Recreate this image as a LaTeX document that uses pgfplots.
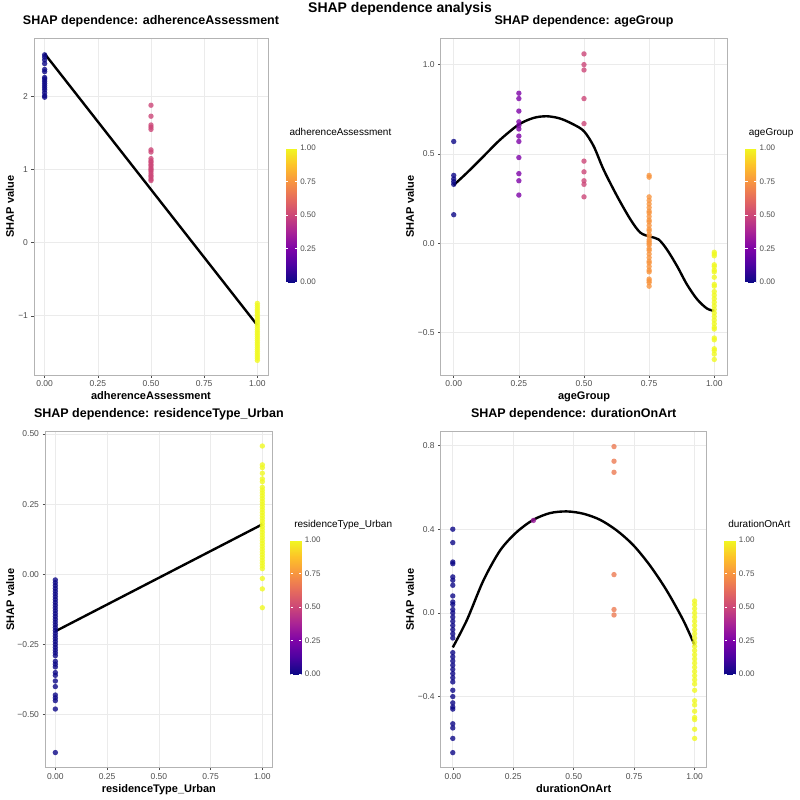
\documentclass[border=0pt]{standalone}
\usepackage{fontspec}
\setmainfont{Liberation Sans}
\usepackage{pgfplots}
\pgfplotsset{compat=1.18}

\definecolor{tickgray}{RGB}{77,77,77}
\definecolor{framegray}{RGB}{179,179,179}
\definecolor{gridgray}{RGB}{235,235,235}

\pgfplotsset{
  colormap={plasma}{rgb255=(13,8,135) rgb255=(76,2,161) rgb255=(126,3,168)
    rgb255=(169,35,149) rgb255=(204,71,120) rgb255=(230,108,92)
    rgb255=(248,149,64) rgb255=(253,195,40) rgb255=(240,249,33)},
  shap/.style={
    scale only axis,
    axis line style={framegray, line width=0.7pt},
    grid=major, major grid style={gridgray, line width=0.6pt},
    tick align=outside, major tick length=2.5pt,
    tick style={tickgray, line width=0.5pt},
    xtick pos=bottom, ytick pos=left,
    xmin=-0.05, xmax=1.05,
    xtick={0,0.25,0.5,0.75,1}, xticklabels={0.00,0.25,0.50,0.75,1.00},
    ticklabel style={font=\fontsize{8.5}{10}\selectfont, text=tickgray},
    title style={font=\fontsize{12.5}{14}\selectfont\bfseries, at={(axis description cs:0.5,1)}, anchor=base},
    label style={font=\fontsize{11}{13}\selectfont\bfseries},
    x label style={at={(axis description cs:0.5,0)}, anchor=base, yshift=-24.5pt},
    ylabel={SHAP value},
    point meta min=0, point meta max=1,
    colormap name=plasma,
    colorbar,
    every colorbar/.append style={
      scale only axis, width=10.7pt, height=134pt,
      at={(parent axis.north east)}, anchor=north west, xshift=9.5pt,
      axis line style={draw=none},
      grid=none,
      ytick={0,0.25,0.5,0.75,1}, yticklabels={0.00,0.25,0.50,0.75,1.00},
      major tick length=2.2pt, tick align=inside,
      tick style={white, line width=0.6pt},
      yticklabel pos=right,
      ticklabel style={font=\fontsize{8}{9}\selectfont, text=tickgray},
      title style={font=\fontsize{10}{12}\selectfont, at={(axis description cs:0,1)}, anchor=base west, yshift=7pt},
    },
  },
  dots/.style={scatter, only marks, mark=*, mark size=2.7pt, point meta=x,
    scatter/use mapped color={draw opacity=0, fill=mapped color, fill opacity=0.8}},
  fitline/.style={black, line width=2.4pt, no markers},
}

\begin{document}
\begin{tikzpicture}
\useasboundingbox (0,0) rectangle (800pt,-800pt);

\node[font=\fontsize{14}{16}\selectfont\bfseries, anchor=base] at (400pt,-13pt) {SHAP dependence analysis};

% ---------- adherenceAssessment ----------
\begin{axis}[shap,
  at={(34pt,-375pt)}, anchor=south west, width=234pt, height=337pt,
  ymin=-1.81, ymax=2.80,
  ytick={-1,0,1,2}, yticklabels={−1,0,1,2},
  title={SHAP dependence: adherenceAssessment}, title style={yshift=7.4pt},
  xlabel={adherenceAssessment},
  ylabel style={at={(axis description cs:-0.0855,0.5)}, anchor=base},
  colorbar style={yshift=-110pt, title={adherenceAssessment}},
]
\addplot[dots] table {
x y
0 2.57
0 2.54
0 2.50
0 2.45
0 2.37
0 2.34
0 2.26
0 2.24
0 2.21
0 2.18
0 2.15
0 2.12
0 2.09
0 2.05
0 2.01
0 1.99
0.5 1.88
0.5 1.73
0.5 1.61
0.5 1.58
0.5 1.55
0.5 1.27
0.5 1.24
0.5 1.15
0.5 1.12
0.5 1.10
0.5 1.07
0.5 1.05
0.5 1.02
0.5 1.00
0.5 0.98
0.5 0.95
0.5 0.92
0.5 0.90
0.5 0.87
0.5 0.85
1 -0.83
1 -0.86
1 -0.89
1 -0.92
1 -0.95
1 -0.98
1 -1.01
1 -1.04
1 -1.07
1 -1.10
1 -1.13
1 -1.16
1 -1.19
1 -1.22
1 -1.25
1 -1.28
1 -1.31
1 -1.34
1 -1.37
1 -1.40
1 -1.43
1 -1.46
1 -1.49
1 -1.52
1 -1.55
1 -1.58
1 -1.61
};
\addplot[fitline] coordinates {(0,2.585) (1,-1.13)};
\end{axis}

% ---------- ageGroup ----------
\begin{axis}[shap,
  at={(440.7pt,-375pt)}, anchor=south west, width=286.6pt, height=337pt,
  ymin=-0.737, ymax=1.149,
  ytick={-0.5,0,0.5,1}, yticklabels={−0.5,0.0,0.5,1.0},
  title={SHAP dependence: ageGroup}, title style={yshift=7.4pt},
  xlabel={ageGroup},
  ylabel style={at={(axis description cs:-0.0932,0.5)}, anchor=base},
  colorbar style={yshift=-110pt, title={ageGroup}},
]
\addplot[dots] table {
x y
0 0.57
0 0.38
0 0.36
0 0.345
0 0.33
0 0.16
0.25 0.84
0.25 0.81
0.25 0.74
0.25 0.68
0.25 0.66
0.25 0.64
0.25 0.60
0.25 0.57
0.25 0.48
0.25 0.39
0.25 0.35
0.25 0.27
0.5 1.06
0.5 1.00
0.5 0.97
0.5 0.81
0.5 0.67
0.5 0.46
0.5 0.40
0.5 0.35
0.5 0.33
0.5 0.26
0.75 0.38
0.75 0.37
0.75 0.26
0.75 0.24
0.75 0.22
0.75 0.20
0.75 0.18
0.75 0.17
0.75 0.15
0.75 0.13
0.75 0.12
0.75 0.10
0.75 0.08
0.75 0.07
0.75 0.05
0.75 0.04
0.75 0.02
0.75 0.01
0.75 0.00
0.75 -0.01
0.75 -0.03
0.75 -0.04
0.75 -0.06
0.75 -0.08
0.75 -0.10
0.75 -0.11
0.75 -0.13
0.75 -0.15
0.75 -0.16
0.75 -0.20
0.75 -0.21
0.75 -0.22
0.75 -0.24
1 -0.05
1 -0.06
1 -0.07
1 -0.12
1 -0.13
1 -0.15
1 -0.16
1 -0.19
1 -0.23
1 -0.24
1 -0.27
1 -0.29
1 -0.31
1 -0.33
1 -0.35
1 -0.37
1 -0.39
1 -0.41
1 -0.43
1 -0.45
1 -0.47
1 -0.48
1 -0.53
1 -0.54
1 -0.59
1 -0.60
1 -0.62
1 -0.65
};
\addplot[fitline, smooth] coordinates {
(0,0.326) (0.051,0.395) (0.115,0.488) (0.179,0.581) (0.25,0.665)
(0.307,0.702) (0.358,0.711) (0.409,0.698) (0.46,0.665) (0.5,0.627)
(0.537,0.544) (0.575,0.413) (0.627,0.264) (0.678,0.134) (0.716,0.06)
(0.754,0.037) (0.786,0.022) (0.818,-0.034) (0.857,-0.127) (0.895,-0.23)
(0.934,-0.313) (0.972,-0.365) (1,-0.378)};
\end{axis}

% ---------- residenceType_Urban ----------
\begin{axis}[shap,
  at={(45pt,-767.7pt)}, anchor=south west, width=227.7pt, height=336pt,
  ymin=-0.689, ymax=0.508,
  ytick={-0.5,-0.25,0,0.25,0.5}, yticklabels={−0.50,−0.25,0.00,0.25,0.50},
  title={SHAP dependence: residenceType\_Urban}, title style={yshift=8.3pt},
  xlabel={residenceType\_Urban},
  ylabel style={at={(axis description cs:-0.136,0.5)}, anchor=base},
  colorbar style={yshift=-108.3pt, title={residenceType\_Urban}},
]
\addplot[dots] table {
x y
0 -0.02
0 -0.03
0 -0.04
0 -0.05
0 -0.06
0 -0.07
0 -0.08
0 -0.09
0 -0.10
0 -0.11
0 -0.12
0 -0.13
0 -0.14
0 -0.15
0 -0.16
0 -0.17
0 -0.18
0 -0.19
0 -0.20
0 -0.21
0 -0.22
0 -0.23
0 -0.24
0 -0.25
0 -0.26
0 -0.27
0 -0.28
0 -0.29
0 -0.31
0 -0.32
0 -0.33
0 -0.35
0 -0.36
0 -0.38
0 -0.40
0 -0.43
0 -0.44
0 -0.45
0 -0.48
0 -0.635
1 0.457
1 0.39
1 0.38
1 0.36
1 0.34
1 0.33
1 0.31
1 0.30
1 0.29
1 0.28
1 0.27
1 0.26
1 0.25
1 0.24
1 0.23
1 0.22
1 0.21
1 0.20
1 0.19
1 0.18
1 0.17
1 0.16
1 0.15
1 0.14
1 0.13
1 0.12
1 0.11
1 0.10
1 0.09
1 0.08
1 0.07
1 0.06
1 0.05
1 0.04
1 0.03
1 0.02
1 -0.015
1 -0.052
1 -0.119
};
\addplot[fitline] coordinates {(0,-0.203) (1,0.178)};
\end{axis}

% ---------- durationOnArt ----------
\begin{axis}[shap,
  at={(440.7pt,-767.7pt)}, anchor=south west, width=266pt, height=336pt,
  ymin=-0.74, ymax=0.866,
  ytick={-0.4,0,0.4,0.8}, yticklabels={−0.4,0.0,0.4,0.8},
  title={SHAP dependence: durationOnArt}, title style={yshift=8.3pt},
  xlabel={durationOnArt},
  ylabel style={at={(axis description cs:-0.1004,0.5)}, anchor=base},
  colorbar style={yshift=-108.3pt, title={durationOnArt}},
]
\addplot[dots] table {
x y
0 0.40
0 0.336
0 0.243
0 0.235
0 0.172
0 0.156
0 0.132
0 0.081
0 0.052
0 0.04
0 0.016
0 0.0
0 -0.02
0 -0.04
0 -0.06
0 -0.08
0 -0.10
0 -0.12
0 -0.19
0 -0.21
0 -0.23
0 -0.25
0 -0.27
0 -0.29
0 -0.31
0 -0.33
0 -0.37
0 -0.40
0 -0.43
0 -0.45
0 -0.46
0 -0.53
0 -0.55
0 -0.60
0 -0.668
0.3333 0.442
0.6667 0.795
0.6667 0.725
0.6667 0.672
0.6667 0.183
0.6667 0.016
0.6667 -0.01
1 0.057
1 0.04
1 0.02
1 0.0
1 -0.02
1 -0.04
1 -0.06
1 -0.08
1 -0.10
1 -0.12
1 -0.14
1 -0.16
1 -0.18
1 -0.20
1 -0.22
1 -0.24
1 -0.26
1 -0.28
1 -0.30
1 -0.32
1 -0.34
1 -0.37
1 -0.42
1 -0.44
1 -0.47
1 -0.50
1 -0.51
1 -0.556
1 -0.60
};
\addplot[fitline, smooth] coordinates {
(0,-0.165) (0.058,-0.035) (0.127,0.156) (0.196,0.299) (0.264,0.386)
(0.333,0.445) (0.402,0.477) (0.471,0.485) (0.54,0.474) (0.609,0.445)
(0.678,0.394) (0.747,0.323) (0.815,0.227) (0.884,0.108) (0.953,-0.035)
(1,-0.154)};
\end{axis}
\end{tikzpicture}
\end{document}
